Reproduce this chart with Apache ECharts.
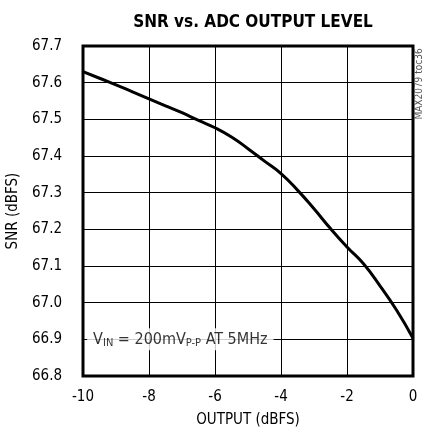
<!DOCTYPE html>
<html>
<head>
<meta charset="utf-8">
<script src="https://cdn.jsdelivr.net/npm/echarts@6/dist/echarts.min.js"></script>
<style>
  html, body { margin: 0; padding: 0; background: #fff; }
  #main { width: 425px; height: 438px; }
</style>
</head>
<body>
<div id="main"></div>
<script>
// SNR vs output level
var outputLevel = [-10, -9.5, -9, -8.5, -8, -7.5, -7, -6.5, -6, -5.5, -5, -4.5, -4, -3.5, -3, -2.5, -2, -1.5, -1, -0.5, 0];
var snrValues = [67.630, 67.612, 67.594, 67.575, 67.556, 67.537, 67.518, 67.497, 67.477, 67.452, 67.420, 67.386, 67.352, 67.307, 67.256, 67.202, 67.152, 67.106, 67.046, 66.980, 66.903];
var xTicks = [-10, -8, -6, -4, -2, 0];
var yTicks = [66.8, 66.9, 67.0, 67.1, 67.2, 67.3, 67.4, 67.5, 67.6, 67.7];
var notePos = [-7.05, 66.9];

var narrow = '"DejaVu Sans Condensed", "Liberation Sans Narrow", sans-serif';

var chart = echarts.init(document.getElementById('main'));

var option = {
    animation: false,
    backgroundColor: '#fff',
    title: {
        text: 'SNR vs. ADC OUTPUT LEVEL',
        left: 248,
        top: 9,
        textAlign: 'center',
        textStyle: { fontFamily: narrow, fontWeight: 'bold', fontSize: 17, color: '#000' }
    },
    grid: {
        left: 83, right: 12, top: 46, bottom: 62,
        outerBoundsMode: 'none',
        show: true, borderColor: '#000', borderWidth: 3, backgroundColor: 'transparent'
    },
    xAxis: {
        type: 'value',
        min: -10, max: 0, interval: 2,
        name: 'OUTPUT (dBFS)',
        nameLocation: 'middle',
        nameGap: 37,
        nameTextStyle: { fontFamily: narrow, fontSize: 15, color: '#000' },
        axisLine: { show: false },
        axisTick: { show: false },
        axisLabel: {
            margin: 14, fontFamily: narrow, fontSize: 15, color: '#000',
            formatter: function (v) { return xTicks.indexOf(v) >= 0 ? String(v) : ''; }
        },
        splitLine: { show: true, lineStyle: { color: '#000', width: 1 } }
    },
    yAxis: {
        type: 'value',
        min: 66.8, max: 67.7, interval: 0.1,
        name: 'SNR (dBFS)',
        nameLocation: 'middle',
        nameGap: 58,
        nameTextStyle: { fontFamily: narrow, fontSize: 15, color: '#000' },
        axisLine: { show: false },
        axisTick: { show: false },
        axisLabel: {
            margin: 21, fontFamily: narrow, fontSize: 15, color: '#000',
            formatter: function (v) {
                var s = v.toFixed(1);
                return yTicks.some(function (t) { return t.toFixed(1) === s; }) ? s : '';
            }
        },
        splitLine: { show: true, lineStyle: { color: '#000', width: 1 } }
    },
    graphic: [{
        type: 'text',
        x: 414, y: 84,
        rotation: Math.PI / 2,
        style: {
            text: 'MAX2079 toc36',
            fontFamily: narrow, fontSize: 10, fill: '#555',
            align: 'center', verticalAlign: 'top'
        }
    }],
    series: [{
        type: 'line',
        data: outputLevel.map(function (x, i) { return [x, snrValues[i]]; }),
        smooth: 0.5,
        symbol: 'none',
        lineStyle: { color: '#000', width: 3 },
        z: 3
    }, {
        type: 'scatter',
        data: [notePos],
        symbolSize: 0,
        z: 4,
        label: {
            show: true,
            position: 'inside',
            backgroundColor: '#fff',
            padding: [2, 6],
            formatter: '{m|V}{s|IN}{m| = 200mV}{s|P-P}{m| AT 5MHz}',
            rich: {
                m: { fontFamily: narrow, fontSize: 16, color: '#000', lineHeight: 18, verticalAlign: 'bottom' },
                s: { fontFamily: narrow, fontSize: 11, color: '#000', lineHeight: 18, verticalAlign: 'bottom', padding: [4, 0, 0, 0] }
            }
        }
    }]
};

chart.setOption(option);
</script>
</body>
</html>
